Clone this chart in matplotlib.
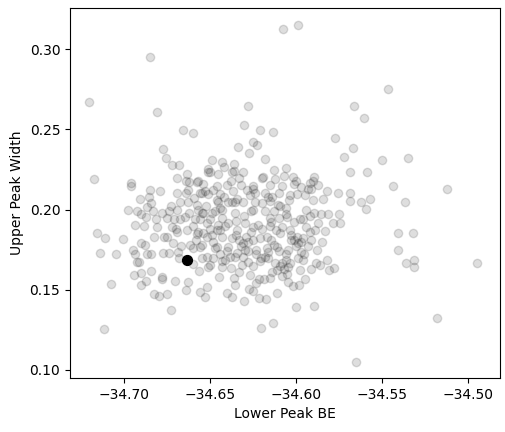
import matplotlib
matplotlib.use("Agg")
import matplotlib.pyplot as plt

# values
lower_be = [
    -34.6849, -34.7203, -34.6808, -34.6657, -34.6599, -34.6076, -34.5988, -34.6279,
    -34.5663, -34.6302, -34.6209, -34.6134, -34.5465, -34.5605,
    -34.5669, -34.5500, -34.5349, -34.5686, -34.5587, -34.5436, -34.5122, -34.5686,
    -34.5686, -34.5622, -34.5570, -34.5593, -34.5366, -34.5407, -34.5320, -34.5407,
    -34.5360, -34.5314, -34.5314, -34.4948, -34.5180, -34.5651,
    -34.7140, -34.7047, -34.6936, -34.6866, -34.6843, -34.6738, -34.6686, -34.6924,
    -34.6913, -34.7076, -34.6942, -34.6901, -34.6843, -34.6779, -34.6779, -34.6872,
    -34.6901, -34.6703, -34.6628, -34.6640, -34.6826, -34.6797, -34.6750, -34.6727,
    -34.7116, -34.6558, -34.6529, -34.6517, -34.6564, -34.6517,
    -34.6500, -34.6448, -34.6384, -34.6378, -34.6360, -34.6355, -34.6401, -34.6372,
    -34.6302, -34.6267, -34.6273, -34.6250, -34.6215, -34.6186, -34.6151, -34.6215,
    -34.6174, -34.6110, -34.6250, -34.6209, -34.6180, -34.6081, -34.6081, -34.6047,
    -34.6017, -34.5983, -34.6047, -34.6035, -34.5977, -34.5948, -34.5953, -34.5913,
    -34.5860, -34.5820, -34.5808, -34.5779, -34.6000, -34.5895, -34.6203, -34.6134,
    -34.6314, -34.6308,
    -34.6773, -34.6756, -34.6721, -34.6680, -34.7174, -34.6959, -34.6959, -34.6692,
    -34.6634, -34.6622, -34.6576, -34.6640, -34.6512, -34.6500, -34.6849, -34.6791,
    -34.6692, -34.6628, -34.6547, -34.6529, -34.6855, -34.6907, -34.6843, -34.6866,
    -34.6977, -34.6924, -34.6901, -34.6831, -34.6779, -34.6738, -34.6727, -34.6674,
    -34.6628, -34.6576, -34.6523, -34.6872, -34.6814, -34.6750, -34.6709, -34.6674,
    -34.6645, -34.6587, -34.6541, -34.6936, -34.6884, -34.6808, -34.6721, -34.6692,
    -34.6634, -34.6576, -34.6541, -34.7157, -34.7110, -34.7006, -34.6901, -34.6826,
    -34.6767, -34.6715, -34.6669, -34.6616, -34.6558, -34.6948, -34.6878, -34.6773,
    -34.6512, -34.6453, -34.6372, -34.6570, -34.6558, -34.6512, -34.6442, -34.6453,
    -34.6395, -34.6355, -34.6547, -34.6488, -34.6430, -34.6355, -34.6517, -34.6453,
    -34.6395, -34.6570, -34.6488, -34.6430, -34.6372, -34.6547, -34.6471, -34.6395,
    -34.6547, -34.6483, -34.6413, -34.6355, -34.6512, -34.6430,
    -34.6308, -34.6192, -34.6122, -34.6250, -34.6163, -34.6105, -34.6308, -34.6262,
    -34.6180, -34.6297, -34.6221, -34.6145, -34.6116, -34.6291, -34.6209, -34.6145,
    -34.6297, -34.6233, -34.6163, -34.6279, -34.6203, -34.6122,
    -34.6070, -34.6012, -34.5895, -34.5971, -34.5913, -34.5843, -34.5942, -34.5895,
    -34.5855, -34.6058, -34.6012, -34.5942, -34.5872, -34.6029, -34.5959, -34.5913,
    -34.6047, -34.5971, -34.6058, -34.5959, -34.5884,
    -34.5773, -34.6337, -34.6250, -34.6227, -34.6273, -34.6180, -34.5721, -34.6488,
    -34.6430, -34.6419, -34.6360, -34.6360, -34.6331, -34.6198, -34.6128, -34.6058,
    -34.6081, -34.6000, -34.5930, -34.5919, -34.5901, -34.5820, -34.5756, -34.5994,
    -34.6035, -34.6140, -34.6285, -34.6238, -34.6366, -34.6459, -34.6343, -34.6238,
    -34.6151, -34.6093, -34.5814, -34.5750, -34.5785, -34.5744, -34.5831, -34.5977,
    -34.6052, -34.6081, -34.6151, -34.6250, -34.6250, -34.6343, -34.6459, -34.6250,
    -34.6093, -34.6035, -34.5994, -34.5919, -34.6459, -34.6169, -34.6110,
    # overlapping points in the dense core
    -34.6460, -34.6440, -34.6420, -34.6470, -34.6480, -34.6330, -34.6310, -34.6350,
    -34.6280, -34.6320, -34.6010, -34.5990, -34.6030, -34.5970, -34.6000, -34.6090,
    -34.6070, -34.6110, -34.6050, -34.6400, -34.6380, -34.6270, -34.6250, -34.6200,
    -34.6180, -34.6130, -34.6100, -34.6060, -34.6040, -34.6560, -34.6600, -34.6620,
    -34.6590, -34.6540, -34.6500, -34.6440, -34.6410, -34.6350, -34.6300, -34.6260,
    -34.6200, -34.6170, -34.6130, -34.6100, -34.6160, -34.6230, -34.6280, -34.6340,
    -34.6400, -34.6440, -34.6480, -34.6520, -34.6580, -34.6600, -34.5960, -34.5920,
    -34.5890, -34.5930, -34.5880, -34.5850, -34.5900, -34.5950, -34.5870, -34.6020,
    -34.6100, -34.6150, -34.6320, -34.6370, -34.6430, -34.6500, -34.6570, -34.6640,
    -34.6690, -34.6700, -34.6750, -34.6680, -34.6600, -34.6430, -34.6330, -34.6140,
    -34.6230, -34.6060, -34.5990, -34.6150,
]
upper_width = [
    0.2950, 0.2669, 0.2606, 0.2494, 0.2475, 0.3125, 0.3150, 0.2644,
    0.2644, 0.2525, 0.2494, 0.2481, 0.2750, 0.2569,
    0.2381, 0.2306, 0.2319, 0.2231, 0.2231, 0.2144, 0.2131, 0.2100,
    0.2056, 0.2044, 0.2063, 0.2006, 0.2044, 0.1856, 0.1856, 0.1750,
    0.1669, 0.1688, 0.1644, 0.1669, 0.1325, 0.1050,
    0.1731, 0.1725, 0.1725, 0.1725, 0.1725, 0.1731, 0.1738, 0.1675,
    0.1675, 0.1538, 0.1594, 0.1606, 0.1619, 0.1581, 0.1569, 0.1556,
    0.1531, 0.1556, 0.1550, 0.1500, 0.1475, 0.1463, 0.1475, 0.1375,
    0.1256, 0.1488, 0.1456, 0.1519, 0.1619, 0.1706,
    0.1656, 0.1581, 0.1706, 0.1638, 0.1575, 0.1531, 0.1481, 0.1456,
    0.1431, 0.1594, 0.1506, 0.1494, 0.1569, 0.1569, 0.1575, 0.1450,
    0.1444, 0.1481, 0.1650, 0.1681, 0.1706, 0.1669, 0.1588, 0.1550,
    0.1525, 0.1531, 0.1644, 0.1669, 0.1625, 0.1569, 0.1725, 0.1631,
    0.1656, 0.1688, 0.1625, 0.1638, 0.1394, 0.1400, 0.1263, 0.1294,
    0.1656, 0.1706,
    0.2375, 0.2319, 0.2275, 0.2275, 0.2188, 0.2163, 0.2144, 0.2194,
    0.2219, 0.2169, 0.2169, 0.2175, 0.2250, 0.2231, 0.2119, 0.2113,
    0.2106, 0.2119, 0.2106, 0.2113, 0.2075, 0.2063, 0.2038, 0.2013,
    0.1994, 0.1988, 0.1975, 0.1988, 0.1981, 0.1988, 0.2025, 0.2044,
    0.2044, 0.2031, 0.2025, 0.1956, 0.1944, 0.1950, 0.1938, 0.1944,
    0.1956, 0.1944, 0.1981, 0.1906, 0.1900, 0.1888, 0.1888, 0.1863,
    0.1875, 0.1850, 0.1856, 0.1856, 0.1825, 0.1819, 0.1794, 0.1831,
    0.1831, 0.1794, 0.1775, 0.1781, 0.1769, 0.1750, 0.1781, 0.1731,
    0.2231, 0.2219, 0.2231, 0.2175, 0.2106, 0.2094, 0.2094, 0.2044,
    0.2050, 0.2044, 0.1981, 0.1981, 0.2000, 0.1981, 0.1919, 0.1906,
    0.1919, 0.1863, 0.1844, 0.1831, 0.1825, 0.1781, 0.1763, 0.1769,
    0.1700, 0.1700, 0.1688, 0.1706, 0.1644, 0.1644,
    0.2231, 0.2200, 0.2188, 0.2144, 0.2075, 0.2031, 0.2044, 0.1988,
    0.1988, 0.1919, 0.1906, 0.1925, 0.1875, 0.1831, 0.1825, 0.1813,
    0.1750, 0.1750, 0.1738, 0.1675, 0.1700, 0.1669,
    0.2206, 0.2156, 0.2200, 0.2138, 0.2125, 0.2063, 0.2000, 0.1981,
    0.1969, 0.1969, 0.1925, 0.1894, 0.1919, 0.1813, 0.1825, 0.1813,
    0.1750, 0.1738, 0.1688, 0.1688, 0.1669,
    0.2444, 0.2388, 0.2419, 0.2400, 0.2350, 0.2313, 0.2325, 0.2306,
    0.2294, 0.2263, 0.2281, 0.2238, 0.2194, 0.2194, 0.2244, 0.2256,
    0.2144, 0.2175, 0.2131, 0.2163, 0.2175, 0.2113, 0.2106, 0.2094,
    0.2088, 0.2081, 0.2119, 0.2106, 0.2113, 0.2144, 0.2063, 0.2050,
    0.2056, 0.2019, 0.1975, 0.1975, 0.1919, 0.1919, 0.1869, 0.1944,
    0.1956, 0.1894, 0.1950, 0.2000, 0.1894, 0.1875, 0.1875, 0.1813,
    0.1856, 0.1875, 0.1831, 0.1863, 0.1769, 0.1763, 0.1769,
    # overlapping points in the dense core
    0.2060, 0.2010, 0.2080, 0.1990, 0.2120, 0.1810, 0.1790, 0.1840,
    0.1800, 0.1770, 0.1810, 0.1790, 0.1840, 0.1800, 0.1770, 0.1650,
    0.1630, 0.1620, 0.1600, 0.2150, 0.2180, 0.2090, 0.2130, 0.2040,
    0.2100, 0.1990, 0.1950, 0.2010, 0.2060, 0.1940, 0.1900, 0.1980,
    0.2070, 0.2160, 0.1880, 0.1870, 0.1900, 0.1930, 0.1960, 0.1860,
    0.1880, 0.1830, 0.1780, 0.1740, 0.1700, 0.1720, 0.1740, 0.1730,
    0.1740, 0.1720, 0.1800, 0.1830, 0.1810, 0.1760, 0.1940, 0.1960,
    0.1870, 0.1770, 0.1750, 0.1800, 0.2060, 0.2090, 0.2150, 0.2200,
    0.2100, 0.2150, 0.2150, 0.2050, 0.1950, 0.1940, 0.2000, 0.2100,
    0.2000, 0.1880, 0.1830, 0.1700, 0.1660, 0.1680, 0.1610, 0.1610,
    0.1540, 0.1720, 0.1700, 0.1900,
]

best_be = [-34.6634]
best_width = [0.16875]

fig = plt.figure(figsize=(5.06, 4.32), dpi=100)
ax = fig.add_axes([0.1383, 0.125, 0.8497, 0.8565])

ax.scatter(lower_be, upper_width, color='k', alpha=0.13)
ax.scatter(best_be, best_width, color='k', s=50)

ax.set_xlim(-34.7314, -34.4814)
ax.set_ylim(0.0950, 0.3256)
ax.set_xticks([-34.70, -34.65, -34.60, -34.55, -34.50])
ax.set_xlabel('Lower Peak BE')
ax.set_ylabel('Upper Peak Width')

fig.savefig('out.png', dpi=100)
